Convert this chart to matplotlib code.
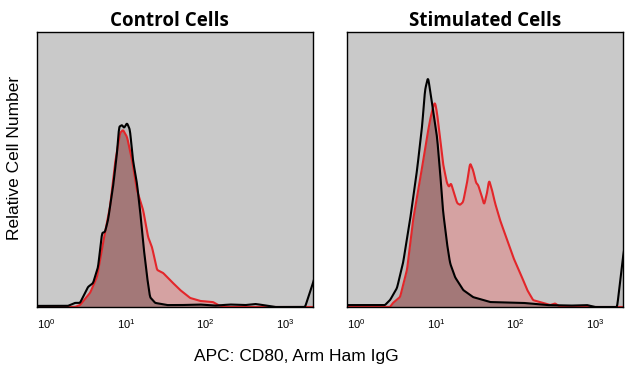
import matplotlib
matplotlib.use("Agg")
import matplotlib.pyplot as plt
import numpy as np

plt.rcParams["mathtext.fontset"] = "custom"
plt.rcParams["mathtext.rm"] = "Liberation Sans"
plt.rcParams["mathtext.it"] = "Liberation Sans"

# fluorescence intensity (APC) and relative cell count
ctrl_iso_x = [0.76, 1.86, 2.28, 2.64, 3.33, 3.85, 4.45, 4.99, 5.44, 5.94, 6.86, 7.70, 8.17, 8.91,
              9.44, 10.3, 11.2, 12.2, 13.7, 15.0, 16.4, 18.4, 20.0, 23.2, 32.8, 47.8, 85, 132,
              203, 314, 420, 594, 748, 1780, 2240, 2400]
ctrl_iso_y = [0.4, 0.4, 1.5, 1.5, 7.3, 8.7, 14.5, 26.9, 27.3, 31.6, 43.6, 56.0, 65.5, 66.2,
              65.1, 66.9, 64.4, 53.5, 45.1, 35.3, 23.3, 10.9, 3.6, 1.5, 0.7, 0.7, 0.9, 0.5,
              0.9, 0.7, 1.1, 0.5, 0.0, 0.0, 8.7, 12.0]

ctrl_cd80_x = [0.76, 2.28, 2.64, 3.53, 4.32, 5.14, 6.29, 7.28, 8.41, 9.17, 10.3, 11.9, 13.7,
               15.0, 16.4, 18.9, 21.2, 24.5, 29.2, 35.7, 47.8, 63.8, 85.3, 124, 144, 176, 2400]
ctrl_cd80_y = [0.0, 0.0, 0.7, 5.1, 10.9, 23.3, 36.4, 52.4, 63.3, 64.4, 61.8, 53.5, 42.5,
               38.9, 35.3, 25.5, 21.8, 13.5, 12.4, 9.8, 6.2, 3.3, 2.2, 1.8, 0.7, 0.0, 0.0]

stim_iso_x = [0.76, 2.28, 2.64, 3.23, 3.85, 4.71, 5.77, 6.67, 7.27, 7.93, 8.41, 9.17, 10.3,
              11.2, 12.2, 13.7, 15.0, 17.3, 21.9, 29.2, 47.8, 124, 249, 485, 790, 1000, 1890,
              2240, 2400]
stim_iso_y = [0.7, 0.7, 2.5, 6.9, 16.0, 31.6, 49.8, 65.5, 78.9, 83.6, 78.9, 71.6, 61.8,
              49.8, 35.3, 23.3, 16.0, 10.9, 6.2, 3.6, 1.8, 1.5, 0.7, 0.5, 0.7, 0.0, 0.0,
              18.2, 24.0]

stim_cd80_x = [0.76, 2.64, 2.88, 3.53, 4.32, 5.14, 6.29, 7.70, 8.41, 9.17, 9.71, 10.3, 11.2,
               12.2, 13.7, 14.6, 15.4, 16.4, 18.4, 20.0, 21.9, 24.5, 26.8, 29.2, 31.9, 33.8,
               37.9, 40.2, 43.8, 46.4, 50.6, 55.2, 63.8, 78.2, 93.0, 114, 140, 166, 222, 272,
               314, 363, 2400]
stim_cd80_y = [0.0, 0.0, 1.5, 3.6, 13.5, 31.6, 46.2, 61.8, 68.0, 72.7, 74.5, 70.5, 61.8,
               52.4, 45.1, 43.6, 45.1, 42.5, 37.8, 37.1, 38.2, 45.1, 52.4, 49.8, 45.1, 44.4,
               40.0, 37.1, 41.5, 46.2, 42.5, 37.8, 31.6, 24.4, 18.2, 12.4, 6.2, 2.5, 1.5, 0.7,
               1.3, 0.0, 0.0]

titles = ["Control Cells", "Stimulated Cells"]
tick_vals = [1, 10, 100, 1000]

panels = [
    (ctrl_iso_x, ctrl_iso_y, ctrl_cd80_x, ctrl_cd80_y),
    (stim_iso_x, stim_iso_y, stim_cd80_x, stim_cd80_y),
]

W, H = 640, 377
fig = plt.figure(figsize=(W / 100, H / 100), dpi=100)


def smooth(v, n=5):
    # light moving average so the traced polyline looks like a histogram trace
    k = np.ones(n) / n
    return np.convolve(np.pad(v, n // 2, mode="edge"), k, mode="valid")


lefts = [37, 347]
title_x = [0.48, 0.5]  # left title sits a little left of centre in the original
for left, tx, title, (bx, by, rx, ry) in zip(lefts, title_x, titles, panels):
    ax = fig.add_axes([left / W, (H - 307) / H, 276 / W, 275 / H])
    ax.set_facecolor("#c9c9c9")

    # common grid so the overlap of the two histograms can be shaded
    grid = np.logspace(np.log10(0.76), np.log10(2400), 900)
    lb = np.log10(grid)
    b = smooth(np.interp(lb, np.log10(bx), by))
    r = smooth(np.interp(lb, np.log10(rx), ry))

    ax.fill_between(grid, 0, b, color="#bbbbbb", lw=0)
    ax.fill_between(grid, 0, r, color="#d5a2a2", lw=0)
    ax.fill_between(grid, 0, np.minimum(b, r), color="#a37878", lw=0)
    ax.plot(grid, r, color="#e3262a", lw=1.5)
    ax.plot(grid, b, color="black", lw=1.5)

    ax.set_xscale("log")
    ax.set_xlim(0.76, 2240)
    ax.set_ylim(0, 100)
    ax.set_yticks([])
    ax.set_xticks(tick_vals)
    ax.set_xticklabels([f"$10^{{{int(np.log10(v))}}}$" for v in tick_vals])
    ax.xaxis.set_minor_locator(matplotlib.ticker.NullLocator())
    ax.tick_params(axis="x", length=0, pad=7, labelsize=8)
    for s in ax.spines.values():
        s.set_linewidth(1.0)
        s.set_color("black")
    ax.set_title(title, fontsize=13.5, fontweight="bold", family="Open Sans", pad=4, x=tx)

fig.text(15 / W, 1 - 158 / H, "Relative Cell Number", rotation=90, ha="center", va="center",
         fontsize=12.5, family="Liberation Sans")
fig.text(296 / W, 1 - 357 / H, "APC: CD80, Arm Ham IgG", ha="center", va="center",
         fontsize=12.5, family="Liberation Sans")

fig.savefig("out.png", dpi=100)
